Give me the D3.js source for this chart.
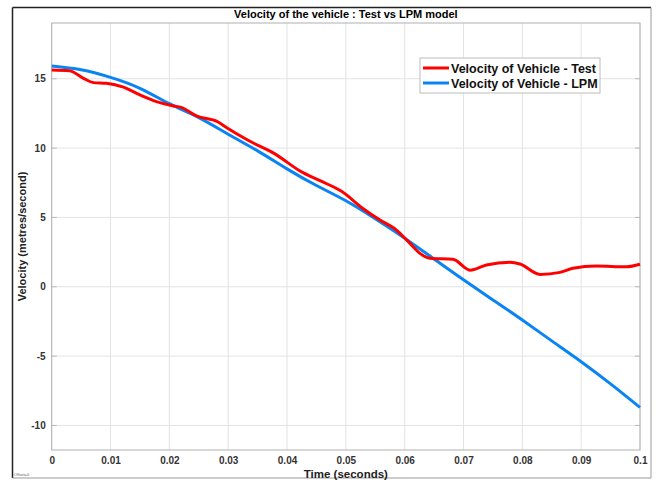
<!DOCTYPE html>
<html lang="en">
<head>
  <meta charset="utf-8">
  <title>Velocity of the vehicle</title>
  <script src="https://d3js.org/d3.v7.min.js" charset="utf-8"></script>
  <style type="text/css">
    body { margin: 0; background: #fff; }
    text { font-family: "Liberation Sans", Arial, sans-serif; }
  </style>
</head>
<body>
  <svg id="chart" width="657" height="482" xmlns="http://www.w3.org/2000/svg"></svg>
  <script type="text/javascript">
    // test data (red)
    var testTime = [0, 0.003, 0.0054, 0.0071, 0.0093, 0.0122, 0.015, 0.0178, 0.0207, 0.0219, 0.0247, 0.0282,
      0.0299, 0.0333, 0.0378, 0.0424, 0.0456, 0.0492, 0.0529, 0.0558, 0.0586, 0.0609, 0.0626,
      0.0643, 0.0682, 0.0711, 0.0739, 0.0779, 0.0796, 0.083, 0.0864, 0.0886, 0.0926, 0.0977, 0.1];
    var testVel = [15.63, 15.58, 15.03, 14.72, 14.67, 14.39, 13.83, 13.35, 13.04, 12.95, 12.3, 11.9,
      11.43, 10.58, 9.62, 8.3, 7.65, 6.9, 5.65, 4.81, 4.09, 3.13, 2.41,
      2.05, 1.98, 1.2, 1.57, 1.76, 1.64, 0.89, 1.04, 1.33, 1.49, 1.44, 1.62];

    // LPM model (blue)
    var lpmTime = [0, 0.005, 0.01, 0.015, 0.02, 0.025, 0.03, 0.035, 0.04, 0.045, 0.05,
      0.055, 0.06, 0.065, 0.07, 0.075, 0.08, 0.085, 0.09, 0.095, 0.1];
    var lpmVel = [15.92, 15.65, 15.1, 14.31, 13.2, 12.2, 11.0, 9.8, 8.5, 7.3, 6.2,
      4.9, 3.5, 2.0, 0.5, -0.95, -2.4, -3.9, -5.4, -7.0, -8.7];

    var xTicks = [0, 0.01, 0.02, 0.03, 0.04, 0.05, 0.06, 0.07, 0.08, 0.09, 0.1];
    var yTicks = [-10, -5, 0, 5, 10, 15];
    var seriesNames = ['Velocity of Vehicle - Test', 'Velocity of Vehicle - LPM'];
    var seriesColors = ['#ff0000', '#0a84f2'];

    var svg = d3.select('#chart');
    var pLeft = 51.7, pRight = 640, pTop = 23, pBottom = 450;

    var x = d3.scaleLinear().domain([0, 0.1]).range([pLeft, pRight]);
    var y = d3.scaleLinear().domain([-11.77, 19.02]).range([pBottom, pTop]);

    // outer frame
    svg.append('line').attr('x1', 12.5).attr('y1', 7.5).attr('x2', 12.5).attr('y2', 478)
      .style('stroke', '#222').style('stroke-width', 1.5);
    svg.append('line').attr('x1', 12.5).attr('y1', 7.5).attr('x2', 651).attr('y2', 7.5)
      .style('stroke', '#222').style('stroke-width', 1.5);
    svg.append('line').attr('x1', 651).attr('y1', 7.5).attr('x2', 651).attr('y2', 478)
      .style('stroke', '#999').style('stroke-width', 1);
    svg.append('line').attr('x1', 12.5).attr('y1', 478).attr('x2', 651).attr('y2', 478)
      .style('stroke', '#999').style('stroke-width', 1);

    // grid
    var grid = svg.append('g');
    grid.selectAll('.gx').data(xTicks).enter().append('line')
      .attr('x1', function(d) { return x(d); }).attr('x2', function(d) { return x(d); })
      .attr('y1', pTop).attr('y2', pBottom)
      .style('stroke', '#e3e3e3').style('stroke-width', 1);
    grid.selectAll('.gy').data(yTicks).enter().append('line')
      .attr('x1', pLeft).attr('x2', pRight)
      .attr('y1', function(d) { return y(d); }).attr('y2', function(d) { return y(d); })
      .style('stroke', '#e3e3e3').style('stroke-width', 1);

    // axes
    var xAxis = d3.axisBottom(x).tickValues(xTicks).tickSize(0).tickPadding(7)
      .tickFormat(function(d) { return String(+d.toFixed(2)); });
    var yAxis = d3.axisLeft(y).tickValues(yTicks).tickSize(0).tickPadding(6)
      .tickFormat(function(d) { return String(d); });

    var gx = svg.append('g').attr('transform', 'translate(0,' + pBottom + ')').call(xAxis);
    var gy = svg.append('g').attr('transform', 'translate(' + pLeft + ',0)').call(yAxis);
    [gx, gy].forEach(function(g) {
      g.select('.domain').remove();
      g.selectAll('text').style('font-size', '10px').style('font-weight', 'bold').style('fill', '#333');
    });

    // small tick marks at the box edges
    svg.selectAll('.ty').data(yTicks).enter().append('line')
      .attr('x1', pLeft).attr('x2', pLeft + 5)
      .attr('y1', function(d) { return y(d); }).attr('y2', function(d) { return y(d); })
      .style('stroke', '#bbb');
    svg.selectAll('.ty2').data(yTicks).enter().append('line')
      .attr('x1', pRight - 5).attr('x2', pRight)
      .attr('y1', function(d) { return y(d); }).attr('y2', function(d) { return y(d); })
      .style('stroke', '#bbb');

    // box
    svg.append('rect').attr('x', pLeft).attr('y', pTop)
      .attr('width', pRight - pLeft).attr('height', pBottom - pTop)
      .style('fill', 'none').style('stroke', '#b0b0b0').style('stroke-width', 1);

    // lines
    var line = d3.line()
      .x(function(d) { return x(d[0]); })
      .y(function(d) { return y(d[1]); })
      .curve(d3.curveMonotoneX);
    var smoothLine = d3.line()
      .x(function(d) { return x(d[0]); })
      .y(function(d) { return y(d[1]); })
      .curve(d3.curveNatural);

    svg.append('path').datum(d3.zip(lpmTime, lpmVel)).attr('d', smoothLine)
      .style('fill', 'none').style('stroke', seriesColors[1]).style('stroke-width', 3);
    svg.append('path').datum(d3.zip(testTime, testVel)).attr('d', line)
      .style('fill', 'none').style('stroke', seriesColors[0]).style('stroke-width', 3);

    // title and labels
    svg.append('text').attr('x', (pLeft + pRight) / 2).attr('y', 18)
      .attr('text-anchor', 'middle').style('font-size', '11px').style('font-weight', 'bold')
      .text('Velocity of the vehicle : Test vs LPM model');
    svg.append('text').attr('x', (pLeft + pRight) / 2).attr('y', 478)
      .attr('text-anchor', 'middle').style('font-size', '11.5px').style('font-weight', 'bold').style('fill', '#222')
      .text('Time (seconds)');
    svg.append('text').attr('transform', 'translate(26,' + ((pTop + pBottom) / 2) + ') rotate(-90)')
      .attr('text-anchor', 'middle').style('font-size', '11px').style('font-weight', 'bold').style('fill', '#222')
      .text('Velocity (metres/second)');
    svg.append('text').attr('x', 14).attr('y', 476)
      .style('font-size', '4px').style('fill', '#666').text('Offset=0');

    // legend
    var legend = svg.append('g');
    legend.append('rect').attr('x', 420).attr('y', 58).attr('width', 180).attr('height', 35)
      .style('fill', '#fff').style('stroke', '#bbb').style('stroke-width', 1);
    seriesNames.forEach(function(name, i) {
      var ly = 68 + i * 15;
      legend.append('line').attr('x1', 423).attr('x2', 449).attr('y1', ly).attr('y2', ly)
        .style('stroke', seriesColors[i]).style('stroke-width', 3);
      legend.append('text').attr('x', 451).attr('y', ly + 4.5)
        .style('font-size', '12.5px').style('font-weight', 'bold').style('fill', '#111')
        .text(name);
    });
  </script>
</body>
</html>
